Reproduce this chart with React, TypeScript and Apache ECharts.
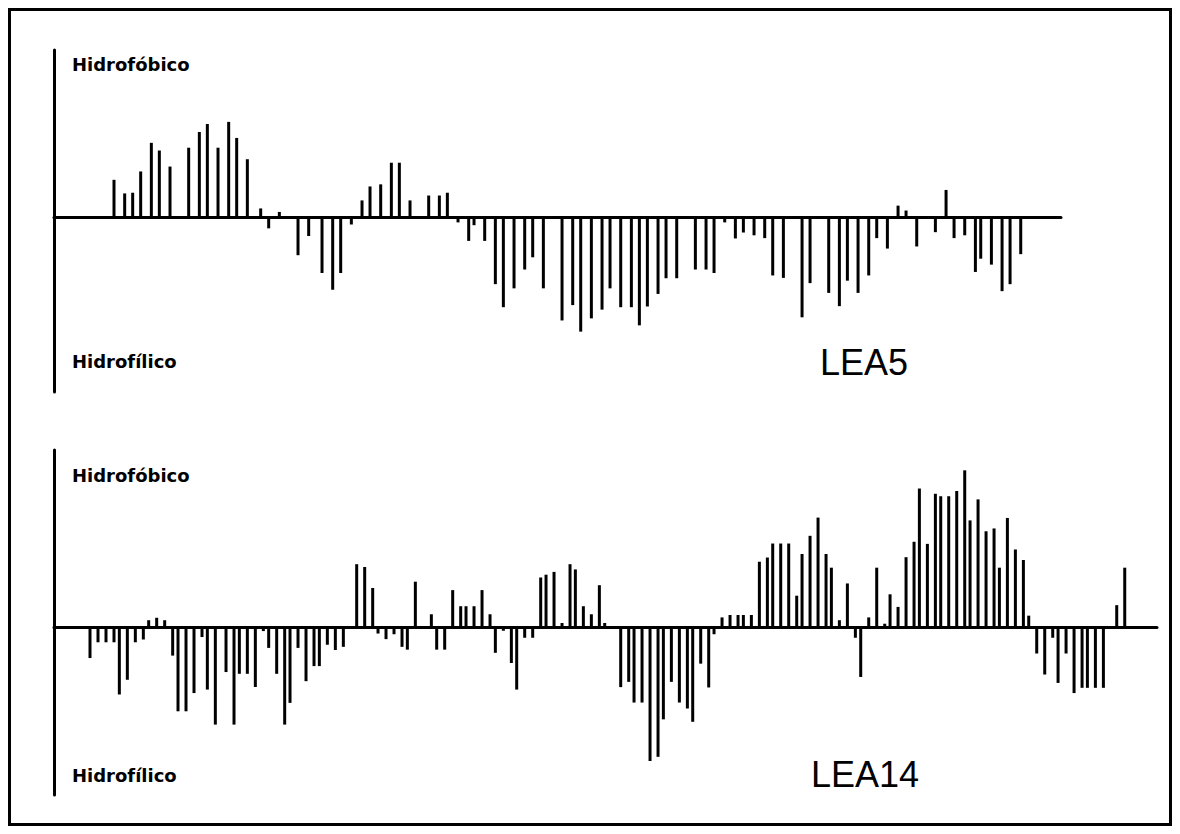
import React, { useEffect, useRef } from "react";
import * as echarts from "echarts";

// LEA5 hydropathy profile: residue position and hydropathy value
const lea5Pos = [22,26,29,32,36,39,43,50,54,57,61,65,68,72,77,80,84,91,95,100,104,107,111,115,118,122,126,129,133,140,144,147,151,155,157,161,165,168,172,176,179,183,190,194,197,201,205,208,212,216,219,222,226,229,233,240,244,247,251,255,258,262,266,269,273,280,283,290,294,297,301,305,308,312,316,319,323,330,334,337,341,345,347,351,355,358,362];
const lea5Val = [1.08,0.69,0.71,1.32,2.14,1.92,1.46,2.0,2.45,2.68,2.0,2.74,2.28,1.67,0.26,-0.31,0.16,-1.08,-0.53,-1.59,-2.07,-1.59,-0.2,0.49,0.89,0.95,1.57,1.57,0.49,0.63,0.63,0.71,-0.14,-0.67,-0.22,-0.67,-1.91,-2.57,-2.03,-1.49,-1.14,-2.03,-2.95,-2.51,-3.27,-2.89,-2.64,-2.03,-2.57,-2.57,-3.09,-2.55,-2.19,-1.74,-1.74,-1.49,-1.49,-1.59,-0.14,-0.6,-0.43,-0.51,-0.59,-1.66,-1.73,-2.86,-1.88,-2.16,-2.54,-1.81,-2.16,-1.66,-0.59,-0.89,0.34,0.2,-0.83,-0.42,0.79,-0.59,-0.51,-1.56,-1.18,-1.35,-2.11,-1.91,-1.05];
const lea5Length = 377.1;

// LEA14 hydropathy profile
const lea14Pos = [13,16,19,22,24,27,30,33,35,38,41,44,46,49,52,55,57,60,64,67,69,72,75,78,80,83,86,88,91,94,97,99,102,105,108,113,116,119,121,124,127,130,132,135,141,143,146,149,152,154,157,160,163,165,168,171,173,176,179,182,184,187,190,193,195,198,201,204,206,212,215,217,220,223,226,228,231,234,237,239,242,245,247,250,253,256,258,261,264,267,269,272,275,278,280,283,286,289,291,294,297,300,302,305,308,311,313,316,319,322,324,327,330,332,335,338,341,343,346,349,352,354,357,360,363,365,368,371,374,376,379,382,385,387,390,393,398,401];
const lea14Val = [-0.89,-0.44,-0.44,-0.44,-1.93,-1.51,-0.44,-0.36,0.19,0.26,0.19,-0.82,-2.41,-2.41,-1.89,-0.29,-1.79,-2.79,-1.29,-2.79,-1.34,-1.34,-1.72,-0.12,-0.6,-1.34,-2.79,-2.17,-0.6,-1.55,-1.12,-1.12,-0.51,-0.66,-0.57,1.79,1.71,1.11,-0.19,-0.35,-0.21,-0.57,-0.65,1.29,0.36,-0.65,-0.65,1.05,0.59,0.59,0.59,1.05,0.36,-0.74,-0.11,-1.03,-1.79,-0.31,-0.31,1.41,1.49,1.57,0.11,1.79,1.64,0.59,0.36,1.19,0.11,-1.72,-1.57,-2.16,-2.16,-3.83,-3.71,-2.64,-1.57,-2.16,-2.33,-2.71,-1.05,-1.73,-0.21,0.27,0.34,0.34,0.34,0.34,1.86,1.98,2.38,2.38,2.38,0.89,2.08,2.6,3.12,2.08,1.69,0.19,1.24,-0.31,-1.43,0.27,1.69,0.09,0.93,0.57,1.99,2.43,3.95,2.37,3.8,3.73,3.73,3.88,4.47,3.04,3.64,2.73,2.81,1.69,3.11,2.21,1.91,0.32,-0.76,-1.36,-0.31,-1.6,-0.76,-1.89,-1.74,-1.74,-1.74,-1.74,0.62,1.69];
const lea14Length = 413.1;

const upperLabel = "Hidrofóbico";
const lowerLabel = "Hidrofílico";
const proteinNames = ["LEA5", "LEA14"];

const toPairs = (pos: number[], val: number[]) => pos.map((p, i) => [p, val[i]]);

export default function App() {
  const ref = useRef<HTMLDivElement>(null);

  useEffect(() => {
    if (!ref.current) return;
    const chart = echarts.init(ref.current, null, { renderer: "svg" });

    const axisLine = { show: true, onZero: true, lineStyle: { color: "#000", width: 3 } };
    const yLine = { show: true, onZero: false, lineStyle: { color: "#000", width: 3 } };
    const hidden = {
      axisTick: { show: false },
      axisLabel: { show: false },
      splitLine: { show: false },
    };
    const labelFont = {
      fontFamily: "DejaVu Sans",
      fontWeight: "bold" as const,
      fontSize: 18,
      fill: "#000",
    };
    const nameFont = {
      fontFamily: "Liberation Sans",
      fontSize: 36,
      fill: "#000",
    };

    chart.setOption({
      animation: false,
      backgroundColor: "#fff",
      grid: [
        { left: 54, top: 50, width: 1007, height: 342 },
        { left: 54, top: 450, width: 1103, height: 345 },
      ],
      xAxis: [
        { type: "value", gridIndex: 0, min: -0.5, max: lea5Length, axisLine, ...hidden },
        { type: "value", gridIndex: 1, min: -0.5, max: lea14Length, axisLine, ...hidden },
      ],
      yAxis: [
        { type: "value", gridIndex: 0, min: -5, max: 4.8, axisLine: yLine, ...hidden },
        { type: "value", gridIndex: 1, min: -4.8, max: 5.05, axisLine: yLine, ...hidden },
      ],
      series: [
        {
          type: "bar",
          xAxisIndex: 0,
          yAxisIndex: 0,
          barWidth: 3,
          itemStyle: { color: "#000" },
          data: toPairs(lea5Pos, lea5Val),
        },
        {
          type: "bar",
          xAxisIndex: 1,
          yAxisIndex: 1,
          barWidth: 3,
          itemStyle: { color: "#000" },
          data: toPairs(lea14Pos, lea14Val),
        },
      ],
      graphic: [
        {
          type: "rect",
          shape: { x: 9.5, y: 9.5, width: 1161, height: 815 },
          style: { fill: "none", stroke: "#000", lineWidth: 3 },
          silent: true,
        },
        { type: "text", x: 72, y: 64, style: { text: upperLabel, ...labelFont, verticalAlign: "middle" } },
        { type: "text", x: 72, y: 361, style: { text: lowerLabel, ...labelFont, verticalAlign: "middle" } },
        { type: "text", x: 820, y: 362, style: { text: proteinNames[0], ...nameFont, verticalAlign: "middle" } },
        { type: "text", x: 72, y: 475, style: { text: upperLabel, ...labelFont, verticalAlign: "middle" } },
        { type: "text", x: 72, y: 775, style: { text: lowerLabel, ...labelFont, verticalAlign: "middle" } },
        { type: "text", x: 811, y: 774, style: { text: proteinNames[1], ...nameFont, verticalAlign: "middle" } },
      ],
    });

    return () => chart.dispose();
  }, []);

  return (
    <div
      ref={ref}
      style={{ position: "fixed", left: 0, top: 0, width: 1180, height: 834, background: "#fff" }}
    />
  );
}
